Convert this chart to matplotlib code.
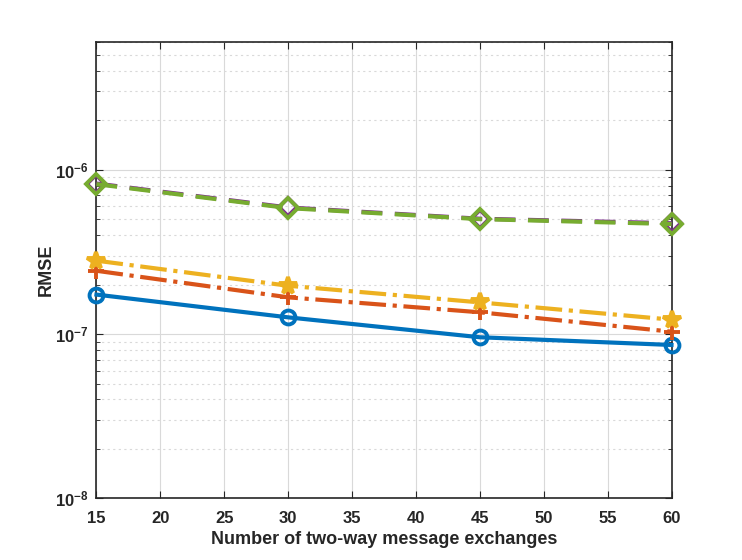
import numpy as np
import matplotlib.pyplot as plt
from matplotlib.ticker import LogLocator, NullFormatter, FixedLocator, FuncFormatter

plt.rcParams['font.family'] = ['Liberation Sans', 'DejaVu Sans']
plt.rcParams['font.weight'] = 'bold'
plt.rcParams['mathtext.fontset'] = 'custom'
plt.rcParams['mathtext.rm'] = 'Liberation Sans:bold'
plt.rcParams['mathtext.bf'] = 'Liberation Sans:bold'
plt.rcParams['mathtext.default'] = 'bf'

# datos
x = [15, 30, 45, 60]
rmse_blue = [1.74e-7, 1.265e-7, 9.57e-8, 8.59e-8]
rmse_red = [2.43e-7, 1.675e-7, 1.358e-7, 1.035e-7]
rmse_yellow = [2.80e-7, 1.97e-7, 1.56e-7, 1.225e-7]
rmse_purple = [8.25e-7, 5.9e-7, 5.04e-7, 4.73e-7]
rmse_green = [8.18e-7, 5.85e-7, 5.01e-7, 4.68e-7]
xticks = [15, 20, 25, 30, 35, 40, 45, 50, 55, 60]

txt = '#262626'
fig = plt.figure(figsize=(7.42, 5.6), dpi=100)
ax = fig.add_axes([0.13, 0.11, 0.775, 0.815])

lw = 3.0
ms = 10
mew = 2.8
ax.plot(x, rmse_blue, '-', color='#0072BD', lw=lw, marker='o', ms=ms, mfc='none', mew=mew, clip_on=False, zorder=5)
ax.plot(x, rmse_red, '-.', color='#D95319', lw=lw, marker='+', ms=ms + 2, mew=mew, clip_on=False, zorder=5)
ax.plot(x, rmse_yellow, '-.', color='#EDB120', lw=lw, marker='*', ms=ms + 3, mew=mew, clip_on=False, zorder=5)
ax.plot(x, rmse_purple, '--', color='#7E2F8E', lw=lw, marker='D', ms=ms - 1, mfc='none', mew=mew,
        dashes=(5, 3), clip_on=False, zorder=5)
ax.plot(x, rmse_green, '--', color='#77AC30', lw=lw, marker='D', ms=ms, mfc='none', mew=mew,
        dashes=(5, 3), clip_on=False, zorder=6)

ax.set_yscale('log')
ax.set_xlim(15, 60)
ax.set_ylim(1e-8, 6e-6)
ax.xaxis.set_major_locator(FixedLocator(xticks))
ax.yaxis.set_major_locator(LogLocator(base=10, numticks=10))
ax.yaxis.set_major_formatter(FuncFormatter(lambda v, p: r'$10^{%d}$' % round(np.log10(v))))
ax.yaxis.set_minor_locator(LogLocator(base=10, subs=np.arange(2, 10), numticks=10))
ax.yaxis.set_minor_formatter(NullFormatter())

ax.grid(True, which='major', color='#d9d9d9', lw=0.8, ls='-')
ax.grid(True, which='minor', axis='y', color='#d9d9d9', lw=0.8, ls=(0, (2, 3)))
ax.set_axisbelow(True)

ax.tick_params(which='both', direction='in', top=True, right=True, colors=txt, labelsize=12)
ax.tick_params(axis='x', which='major', length=5, pad=9)
ax.tick_params(axis='y', which='major', length=5, pad=6)
ax.tick_params(which='minor', length=3)
for s in ax.spines.values():
    s.set_color(txt)
    s.set_linewidth(1.2)

ax.set_xlabel('Number of two-way message exchanges', fontsize=13, color=txt, fontweight='bold', labelpad=4)
ax.set_ylabel('RMSE', fontsize=13, color=txt, fontweight='bold', labelpad=0)

fig.savefig('out.png', dpi=100, facecolor='white')
